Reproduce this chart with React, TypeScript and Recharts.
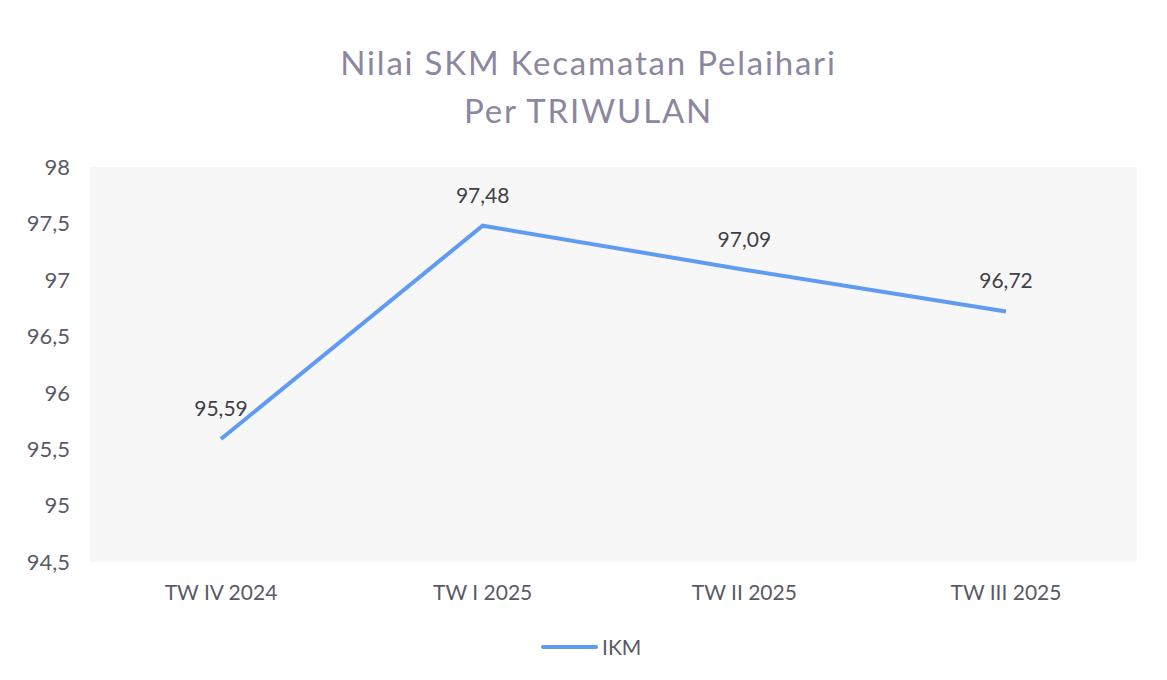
import React from "react";
import { LineChart, Line, XAxis, YAxis, CartesianGrid, LabelList, Legend } from "recharts";

const categories = ["TW IV 2024", "TW I 2025", "TW II 2025", "TW III 2025"];
const ikmValues = [95.59, 97.48, 97.09, 96.72];
const yTicks = [94.5, 95, 95.5, 96, 96.5, 97, 97.5, 98];

const data = categories.map((c, i) => ({ name: c, IKM: ikmValues[i] }));

const FONT = "Lato, 'Open Sans', sans-serif";
const LINE_COLOR = "#5f9bf3";
const TICK_COLOR = "#5a5a66";
const fmt = (v: number) => String(v).replace(".", ",");

const LegendContent = () => (
  <div style={{ display: "flex", alignItems: "center", justifyContent: "flex-start", paddingLeft: 533, fontFamily: FONT, height: 26 }}>
    <svg width={57} height={10} style={{ display: "block" }}>
      <line x1={2} y1={5} x2={55} y2={5} stroke={LINE_COLOR} strokeWidth={4} strokeLinecap="round" />
    </svg>
    <span style={{ fontSize: 21, color: TICK_COLOR, marginLeft: 4, lineHeight: "26px" }}>IKM</span>
  </div>
);

export default function App() {
  return (
    <div style={{ position: "relative", width: 1151, height: 664, background: "#ffffff", fontFamily: FONT }}>
      <div
        style={{
          position: "absolute",
          left: 0,
          width: 1161,
          top: 30,
          textAlign: "center",
          fontSize: 33,
          letterSpacing: 1.8,
          lineHeight: "48px",
          color: "#8c87a0",
          fontFamily: FONT,
        }}
      >
        Nilai SKM Kecamatan Pelaihari
        <br />
        Per TRIWULAN
      </div>
      <LineChart width={1151} height={664} data={data} margin={{ top: 159, right: 22, left: 0, bottom: 60 }}>
        <CartesianGrid horizontal={false} vertical={false} stroke="none" fill="#f7f7f7" fillOpacity={1} />
        <XAxis
          dataKey="name"
          axisLine={false}
          tickLine={false}
          tickSize={0}
          tickMargin={23}
          height={50}
          padding={{ left: 131, right: 131 }}
          tick={{ fill: TICK_COLOR, fontSize: 21, fontFamily: FONT }}
          interval={0}
        />
        <YAxis
          domain={[94.5, 98]}
          ticks={yTicks}
          axisLine={false}
          tickLine={false}
          tickSize={0}
          tickMargin={20}
          width={82}
          tickFormatter={fmt}
          tick={{ fill: TICK_COLOR, fontSize: 22, fontFamily: FONT }}
          interval={0}
        />
        <Legend
          verticalAlign="middle"
          align="center"
          layout="horizontal"
          wrapperStyle={{ top: 626, left: 0, width: 1151 }}
          content={<LegendContent />}
        />
        <Line
          type="linear"
          dataKey="IKM"
          stroke={LINE_COLOR}
          strokeWidth={4}
          dot={false}
          activeDot={false}
          isAnimationActive={false}
        >
          <LabelList
            dataKey="IKM"
            position="top"
            offset={23}
            formatter={(v: any) => fmt(v)}
            style={{ fill: "#404048", fontSize: 21, fontFamily: FONT }}
          />
        </Line>
      </LineChart>
    </div>
  );
}
